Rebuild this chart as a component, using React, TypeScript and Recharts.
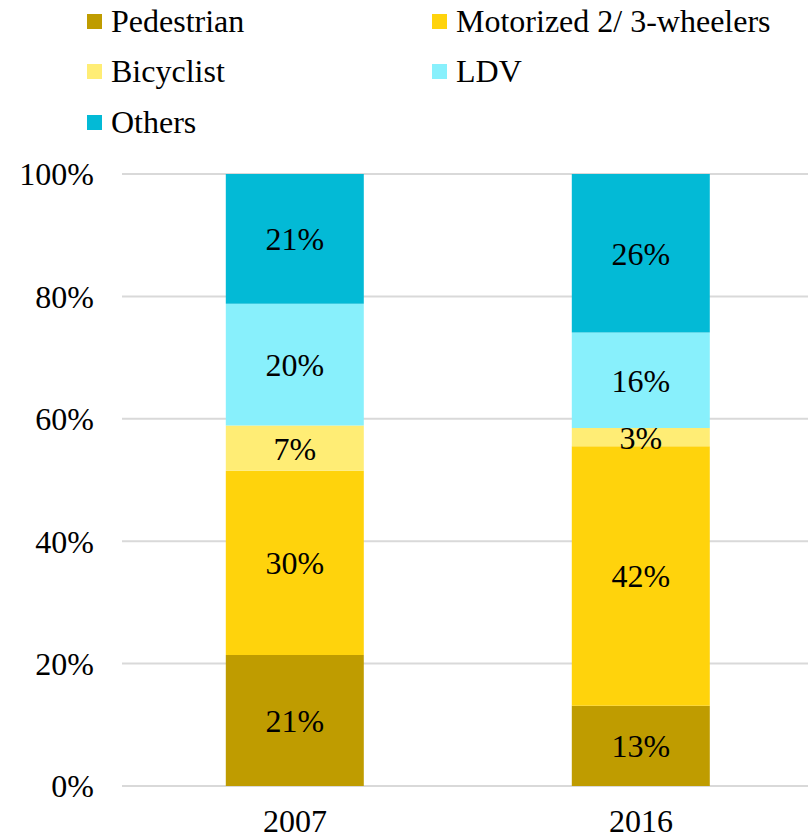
import React from 'react';
import { BarChart, Bar, XAxis, YAxis, CartesianGrid, Legend, LabelList } from 'recharts';

const years = ['2007', '2016'];
const pedestrian = [21.4, 13.1];
const motorized = [30.1, 42.4];
const bicyclist = [7.4, 3.0];
const ldv = [19.9, 15.6];
const others = [21.2, 25.9];
const yTicks = [0, 20, 40, 60, 80, 100];

const series = [
  { key: 'ped', name: 'Pedestrian', color: '#BF9C00', values: pedestrian },
  { key: 'moto', name: 'Motorized 2/ 3-wheelers', color: '#FFD30C', values: motorized },
  { key: 'bike', name: 'Bicyclist', color: '#FFED75', values: bicyclist },
  { key: 'ldv', name: 'LDV', color: '#88F0FC', values: ldv },
  { key: 'oth', name: 'Others', color: '#03BAD6', values: others },
];

const data = years.map((year, i) => {
  const row: Record<string, string | number> = { year };
  series.forEach((s) => {
    row[s.key] = s.values[i];
  });
  return row;
});

const FONT = 'Liberation Serif';

function LegendBox() {
  return (
    <div
      style={{
        display: 'grid',
        gridTemplateColumns: '345px 345px',
        gridAutoRows: '50.5px',
        paddingLeft: 87,
        marginTop: -4,
        fontFamily: FONT,
        fontSize: 32,
        color: '#000',
      }}
    >
      {series.map((s) => (
        <div key={s.key} style={{ display: 'flex', alignItems: 'center', whiteSpace: 'nowrap' }}>
          <span style={{ width: 15, height: 15, background: s.color, marginRight: 9, flex: 'none' }} />
          <span style={{ fontFamily: FONT }}>{s.name}</span>
        </div>
      ))}
    </div>
  );
}

export default function App() {
  return (
    <div style={{ position: 'absolute', left: 0, top: 0, width: 808, height: 838, overflow: 'hidden', background: '#fff', fontFamily: FONT }}>
      <BarChart
        width={814}
        height={838}
        data={data}
        margin={{ top: 174, right: 0, bottom: 0, left: 0 }}
        barCategoryGap="30%"
        style={{ fontFamily: FONT }}
      >
        <CartesianGrid vertical={false} stroke="#D9D9D9" strokeWidth={2} />
        <XAxis
          dataKey="year"
          height={52}
          axisLine={false}
          tickLine={false}
          tickSize={0}
          tickMargin={23}
          tick={{ fill: '#000', fontSize: 32, fontFamily: FONT }}
        />
        <YAxis
          width={122}
          domain={[0, 100]}
          ticks={yTicks}
          axisLine={false}
          tickLine={false}
          tickSize={0}
          tickMargin={28}
          tickFormatter={(v: number) => `${v}%`}
          tick={{ fill: '#000', fontSize: 32, fontFamily: FONT }}
        />
        <Legend
          layout="horizontal"
          verticalAlign="middle"
          align="center"
          wrapperStyle={{ top: 0, left: 0, width: 808 }}
          content={() => <LegendBox />}
        />
        {series.map((s) => (
          <Bar key={s.key} dataKey={s.key} name={s.name} stackId="a" fill={s.color} isAnimationActive={false}>
            <LabelList
              dataKey={s.key}
              position="center"
              formatter={(v: number) => `${Math.round(v)}%`}
              fill="#000"
              fontSize={32}
              fontFamily={FONT}
            />
          </Bar>
        ))}
      </BarChart>
    </div>
  );
}
